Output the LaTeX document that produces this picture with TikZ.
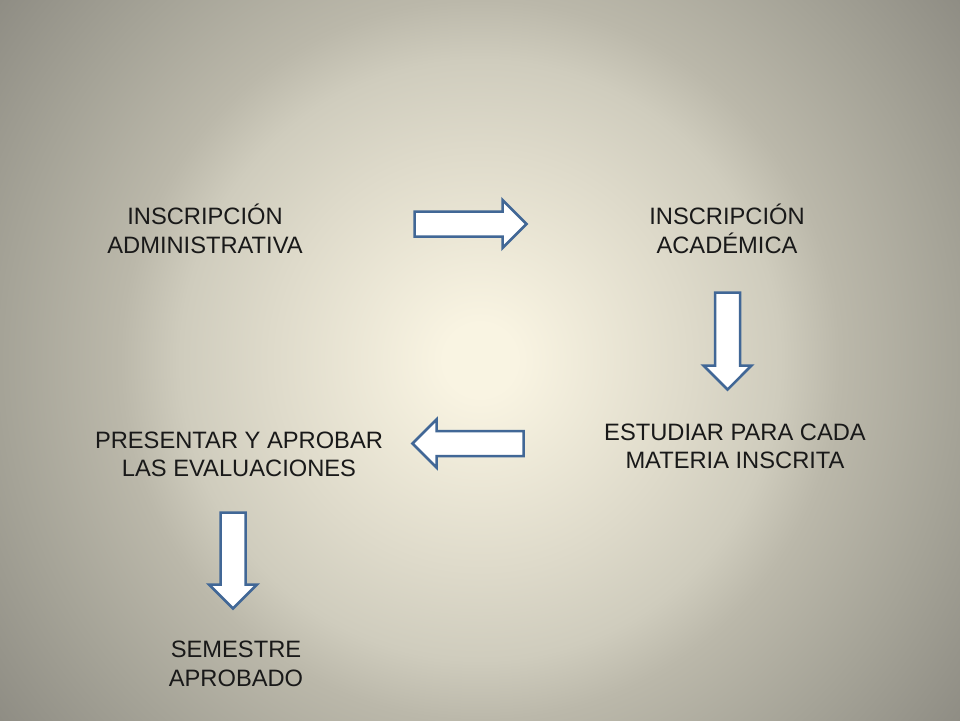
\documentclass[tikz,border=0pt]{standalone}
\usepackage{fontspec}
\setmainfont{Liberation Sans}
\usetikzlibrary{shapes.arrows}
\definecolor{fondoin}{RGB}{249,244,226}
\definecolor{fondoa}{RGB}{222,218,202}
\definecolor{fondob}{RGB}{207,204,189}
\definecolor{fondoc}{RGB}{187,184,170}
\definecolor{fondod}{RGB}{165,163,151}
\definecolor{fondoout}{RGB}{143,141,132}
\definecolor{borde}{RGB}{65,103,150}
\pgfdeclareradialshading{fondo}{\pgfpoint{0bp}{0bp}}{color(0bp)=(fondoin); color(1.5bp)=(fondoin);
	color(8.75bp)=(fondoa); color(12.5bp)=(fondob); color(15bp)=(fondoc); color(20bp)=(fondod);
	color(25bp)=(fondoout); color(50bp)=(fondoout)}
\begin{document}
\begin{tikzpicture}[x=1pt,y=-1pt,
	paso/.style={font=\fontsize{23.7}{28.5}\selectfont, align=center, text=black!90},
	flecha/.style={single arrow, draw=borde, line width=2.5pt, fill=white,
		inner sep=11.25pt, minimum width=45.5pt,
		single arrow head extend=11.5pt, anchor=tail}]
\useasboundingbox (0,0) rectangle (960,720);
\begin{scope}
\clip (0,0) rectangle (960,720);
\fill[shading=fondo] (-120,-240) rectangle (1080,960);
\end{scope}
% pasos
\node[paso] (adm) at (205,229) {INSCRIPCIÓN\\ADMINISTRATIVA};
\node[paso] (acad) at (727,229) {INSCRIPCIÓN\\ACADÉMICA};
\node[paso] (estud) at (735,446.5) {ESTUDIAR PARA CADA\\MATERIA INSCRITA};
\node[paso] (pres) at (239,454.5) {PRESENTAR Y APROBAR\\LAS EVALUACIONES};
\node[paso] (sem) at (236,664) {SEMESTRE\\APROBADO};
% flechas
\node[flecha, minimum height=112pt] (f1) at (413.25,224) {};
\node[flecha, minimum height=97pt, shape border rotate=270] (f2) at (727.5,291.25) {};
\node[flecha, minimum height=111pt, shape border rotate=180] (f3) at (524.75,443.5) {};
\node[flecha, minimum height=96pt, shape border rotate=270] (f4) at (233,511.25) {};
\end{tikzpicture}
\end{document}
